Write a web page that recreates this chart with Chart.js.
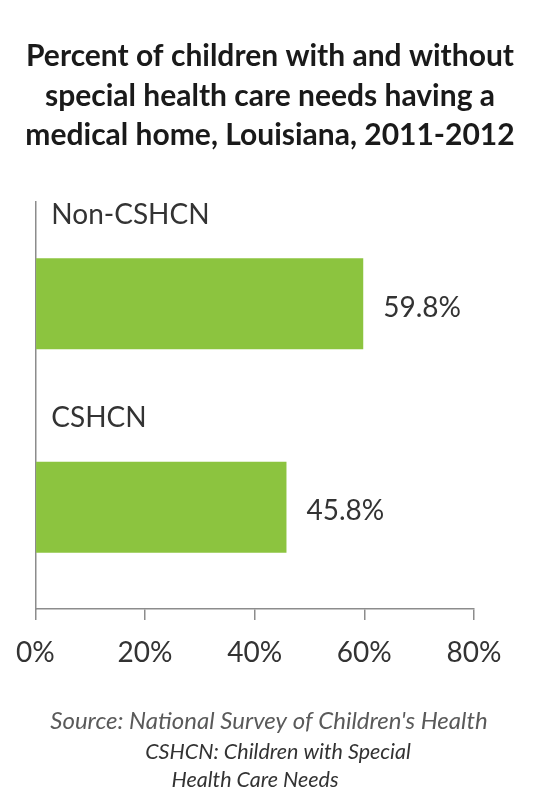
<!DOCTYPE html>
<html>
<head>
<meta charset="utf-8">
<title>Medical home, Louisiana 2011-2012</title>
<script src="https://cdn.jsdelivr.net/npm/chart.js@4/dist/chart.umd.min.js"></script>
<style>
  html, body { margin: 0; padding: 0; background: #fff; }
  canvas { display: block; }
</style>
</head>
<body>
<canvas id="medicalHomeChart" width="541" height="808"></canvas>
<script>
const groups = ['Non-CSHCN', 'CSHCN'];
const percentWithHome = [59.8, 45.8];
const axisTicks = [0, 20, 40, 60, 80];

const titleLines = [
    'Percent of children with and without',
    'special health care needs having a',
    'medical home, Louisiana, 2011-2012'
];
const sourceNote = "Source: National Survey of Children's Health";
const glossLines = ['CSHCN: Children with Special', 'Health Care Needs'];

const FONT = 'Lato, "Open Sans", sans-serif';
const axisGrey = '#8c8c8c';

// headline, group names, value labels and footnotes
const annotations = {
    id: 'annotations',
    afterDraw(chart) {
        const c = chart.ctx;
        const area = chart.chartArea;
        const yScale = chart.scales.y;
        const bars = chart.getDatasetMeta(0).data;
        c.save();

        c.fillStyle = '#1a1a1a';
        c.font = 'bold 30px ' + FONT;
        c.textAlign = 'center';
        c.textBaseline = 'alphabetic';
        [66, 106, 145].forEach((y, i) => c.fillText(titleLines[i], 270, y));

        c.fillStyle = '#333';
        c.font = '28px ' + FONT;
        c.textAlign = 'left';
        groups.forEach((g, i) => {
            c.fillText(g, area.left + 16, yScale.getPixelForValue(i) - 80);
        });
        bars.forEach((bar, i) => {
            c.fillText(percentWithHome[i].toFixed(1) + '%', bar.x + 20, bar.y + 13);
        });

        c.textAlign = 'center';
        c.fillStyle = '#5a5a5a';
        c.font = 'italic 24px ' + FONT;
        c.fillText(sourceNote, 269, 729);
        c.fillStyle = '#333';
        c.font = 'italic 21.5px ' + FONT;
        c.fillText(glossLines[0], 278, 759);
        c.fillText(glossLines[1], 255, 787);

        c.restore();
    }
};

new Chart(document.getElementById('medicalHomeChart'), {
    type: 'bar',
    data: {
        labels: groups,
        datasets: [{
            data: percentWithHome,
            backgroundColor: '#8cc43f',
            borderWidth: 0,
            categoryPercentage: 1,
            barPercentage: 0.447
        }]
    },
    options: {
        indexAxis: 'y',
        responsive: false,
        animation: false,
        layout: { padding: { top: 202, left: 33, right: 67, bottom: 139 } },
        plugins: {
            legend: { display: false },
            tooltip: { enabled: false }
        },
        scales: {
            x: {
                min: 0,
                max: 80,
                afterBuildTicks: (scale) => {
                    scale.ticks = axisTicks.map(v => ({ value: v }));
                },
                afterFit: (scale) => { scale.height = 60; },
                grid: {
                    drawOnChartArea: false,
                    drawTicks: true,
                    tickLength: 11,
                    color: axisGrey,
                    lineWidth: 1.5
                },
                border: { color: axisGrey, width: 1.5 },
                ticks: {
                    padding: 16,
                    color: '#333',
                    font: { family: FONT, size: 28 },
                    callback: (v) => v + '%'
                }
            },
            y: {
                afterFit: (scale) => { scale.width = 0; },
                grid: { display: false },
                border: { color: axisGrey, width: 1.5 },
                ticks: { display: false }
            }
        }
    },
    plugins: [annotations]
});
</script>
</body>
</html>
